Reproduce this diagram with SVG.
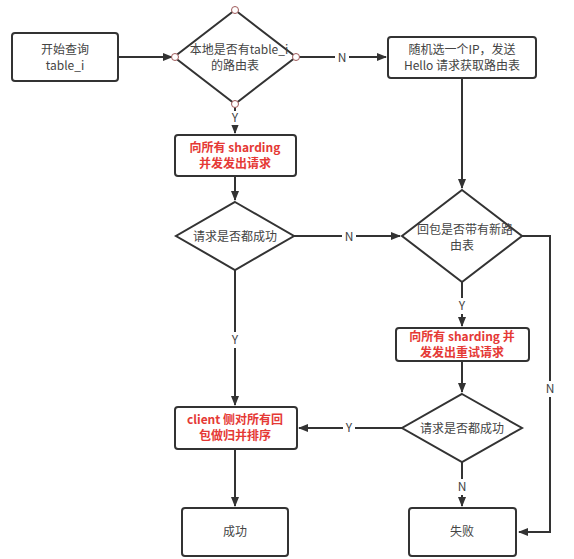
<svg xmlns="http://www.w3.org/2000/svg" width="574" height="559" viewBox="0 0 574 559">
<defs>
<marker id="arr" markerWidth="10" markerHeight="8" refX="9" refY="4" orient="auto" markerUnits="userSpaceOnUse">
<path d="M0,0 L10,4 L0,8 Z" fill="#333"/>
</marker>
<style>
.n{fill:#fff;stroke:#333;stroke-width:2}
.t{font-family:"Microsoft YaHei","Noto Sans CJK SC","Noto Sans",sans-serif;font-size:12px;fill:#444;text-anchor:middle}
.r{font-family:"Microsoft YaHei","Noto Sans CJK SC","Noto Sans",sans-serif;font-size:12px;font-weight:bold;fill:#e53935;text-anchor:middle}
.l{font-family:"Microsoft YaHei","Noto Sans CJK SC","Noto Sans",sans-serif;font-size:12px;fill:#444;text-anchor:middle}
.c{fill:none;stroke:#333;stroke-width:2}
.p{fill:#fff;stroke:#a05a5a;stroke-width:1}
.lb{fill:#fff}
</style>
</defs>
<rect width="574" height="559" fill="#fff"/>
<g id="connectors">
<path class="c" d="M118,57 L172,57" marker-end="url(#arr)"/>
<path class="c" d="M298,57 L386,57" marker-end="url(#arr)"/>
<path class="c" d="M235,106 L235,133" marker-end="url(#arr)"/>
<path class="c" d="M462,78 L462,188" marker-end="url(#arr)"/>
<path class="c" d="M235,176 L235,200" marker-end="url(#arr)"/>
<path class="c" d="M294,236 L400,236" marker-end="url(#arr)"/>
<path class="c" d="M522,236 L550,236 L550,532 L519,532" marker-end="url(#arr)"/>
<path class="c" d="M462,282 L462,326" marker-end="url(#arr)"/>
<path class="c" d="M462,361 L462,392" marker-end="url(#arr)"/>
<path class="c" d="M403,428 L299,428" marker-end="url(#arr)"/>
<path class="c" d="M235,270 L235,405" marker-end="url(#arr)"/>
<path class="c" d="M235,449 L235,506" marker-end="url(#arr)"/>
<path class="c" d="M462,462 L462,506" marker-end="url(#arr)"/>
<rect class="lb" x="335" y="49" width="14" height="16"/>
<text class="l" x="342" y="62">N</text>
<rect class="lb" x="229" y="111" width="12" height="14"/>
<text class="l" x="235" y="122">Y</text>
<rect class="lb" x="342" y="229" width="14" height="16"/>
<text class="l" x="349" y="241">N</text>
<rect class="lb" x="543" y="381" width="14" height="16"/>
<text class="l" x="550" y="393">N</text>
<rect class="lb" x="456" y="298" width="12" height="16"/>
<text class="l" x="462" y="310">Y</text>
<rect class="lb" x="229" y="332" width="12" height="16"/>
<text class="l" x="235" y="344">Y</text>
<rect class="lb" x="343" y="420" width="12" height="16"/>
<text class="l" x="349" y="432">Y</text>
<rect class="lb" x="455" y="479" width="14" height="16"/>
<text class="l" x="462" y="491">N</text>
</g>
<g id="start">
<rect class="n" x="12" y="33" width="106" height="48" rx="3"/>
<text class="t" x="65" y="54">开始查询</text>
<text class="t" x="65" y="70">table_i</text>
</g>
<g id="d1">
<path class="n" d="M235,10 L296,57 L235,104 L174,57 Z"/>
<text class="t" x="239" y="54">本地是否有table_i</text>
<text class="t" x="235" y="70">的路由表</text>
<circle class="p" cx="235" cy="10" r="3.5"/>
<circle class="p" cx="235" cy="104" r="3.5"/>
<circle class="p" cx="175" cy="57" r="3.5"/>
<circle class="p" cx="296" cy="57" r="3.5"/>
</g>
<g id="random">
<rect class="n" x="388" y="37" width="148" height="41" rx="3"/>
<text class="t" x="462" y="54">随机选一个IP，发送</text>
<text class="t" x="462" y="70">Hello 请求获取路由表</text>
</g>
<g id="send">
<rect class="n" x="175" y="135" width="121" height="41" rx="3"/>
<text class="r" x="235" y="152">向所有 sharding</text>
<text class="r" x="235" y="168">并发发出请求</text>
</g>
<g id="d2">
<path class="n" d="M235,202 L294,236 L235,270 L176,236 Z"/>
<text class="t" x="235" y="241">请求是否都成功</text>
</g>
<g id="d3">
<path class="n" d="M462,190 L522,236 L462,282 L402,236 Z"/>
<text class="t" x="465" y="234">回包是否带有新路</text>
<text class="t" x="462" y="250">由表</text>
</g>
<g id="retry">
<rect class="n" x="396" y="328" width="133" height="33" rx="3"/>
<text class="r" x="462" y="341">向所有 sharding 并</text>
<text class="r" x="462" y="357">发发出重试请求</text>
</g>
<g id="d4">
<path class="n" d="M462,394 L522,428 L462,462 L402,428 Z"/>
<text class="t" x="462" y="433">请求是否都成功</text>
</g>
<g id="merge">
<rect class="n" x="175" y="407" width="122" height="42" rx="3"/>
<text class="r" x="235" y="424">client 侧对所有回</text>
<text class="r" x="235" y="440">包做归并排序</text>
</g>
<g id="ok">
<rect class="n" x="182" y="508" width="106" height="48" rx="3"/>
<text class="t" x="235" y="536">成功</text>
</g>
<g id="fail">
<rect class="n" x="409" y="508" width="107" height="48" rx="3"/>
<text class="t" x="462" y="536">失败</text>
</g>
</svg>
